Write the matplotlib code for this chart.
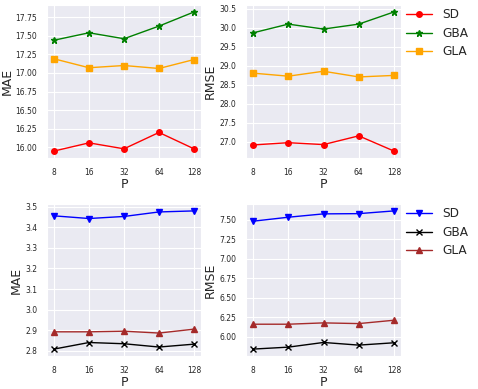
import matplotlib
matplotlib.use("Agg")
import matplotlib.pyplot as plt
import seaborn as sns
import numpy as np

sns.set_style("darkgrid")
plt.rcParams['font.family'] = ['DejaVu Sans']

P_labels = ["8", "16", "32", "64", "128"]

mae1_sd = [15.95, 16.06, 15.98, 16.20, 15.98]
mae1_gba = [17.44, 17.54, 17.46, 17.63, 17.82]
mae1_gla = [17.19, 17.07, 17.10, 17.06, 17.18]

rmse1_sd = [26.92, 26.98, 26.93, 27.16, 26.76]
rmse1_gba = [29.87, 30.10, 29.97, 30.10, 30.42]
rmse1_gla = [28.81, 28.73, 28.86, 28.71, 28.75]

mae2_sd = [3.456, 3.443, 3.453, 3.475, 3.480]
mae2_gba = [2.808, 2.840, 2.834, 2.818, 2.832]
mae2_gla = [2.892, 2.892, 2.895, 2.886, 2.905]

rmse2_sd = [7.483, 7.534, 7.577, 7.580, 7.615]
rmse2_gba = [5.843, 5.868, 5.928, 5.894, 5.924]
rmse2_gla = [6.162, 6.162, 6.179, 6.170, 6.213]

x = np.arange(len(P_labels))

fig = plt.figure(figsize=(4.78, 3.89), dpi=100)
W, H = 478, 389
def ax_at(l, t, r, b):
    return fig.add_axes([l / W, 1 - b / H, (r - l) / W, (b - t) / H])

ax1 = ax_at(47, 5, 201, 158)
ax2 = ax_at(246, 5, 401, 158)
ax3 = ax_at(47, 204, 201, 356)
ax4 = ax_at(246, 204, 401, 356)

top_styles = [("SD", "red", "o", 4), ("GBA", "green", "*", 4.5), ("GLA", "orange", "s", 4)]
bot_styles = [("SD", "blue", "v", 4), ("GBA", "black", "x", 4), ("GLA", "brown", "^", 4)]

for ax, data, styles, ylabel in [
    (ax1, [mae1_sd, mae1_gba, mae1_gla], top_styles, "MAE"),
    (ax2, [rmse1_sd, rmse1_gba, rmse1_gla], top_styles, "RMSE"),
    (ax3, [mae2_sd, mae2_gba, mae2_gla], bot_styles, "MAE"),
    (ax4, [rmse2_sd, rmse2_gba, rmse2_gla], bot_styles, "RMSE"),
]:
    for vals, (lab, c, m, ms) in zip(data, styles):
        ax.plot(x, vals, color=c, marker=m, markersize=ms, linewidth=1.0, label=lab)
    ax.set_xticks(x)
    ax.set_xticklabels(P_labels)
    ax.tick_params(labelsize=5.5)
    ax.set_xlabel("P", fontsize=9, labelpad=1)
    ax.set_ylabel(ylabel, fontsize=9, labelpad=1.5)

ax1.set_yticks([16.00, 16.25, 16.50, 16.75, 17.00, 17.25, 17.50, 17.75])
ax1.set_yticklabels([f"{v:.2f}" for v in ax1.get_yticks()])
ax2.set_yticks([27.0, 27.5, 28.0, 28.5, 29.0, 29.5, 30.0, 30.5])
ax2.set_yticklabels([f"{v:.1f}" for v in ax2.get_yticks()])
ax3.set_yticks([2.8, 2.9, 3.0, 3.1, 3.2, 3.3, 3.4, 3.5])
ax3.set_yticklabels([f"{v:.1f}" for v in ax3.get_yticks()])
ax4.set_yticks([6.00, 6.25, 6.50, 6.75, 7.00, 7.25, 7.50])
ax4.set_yticklabels([f"{v:.2f}" for v in ax4.get_yticks()])

for ax in (ax2, ax4):
    ax.legend(loc="upper left", bbox_to_anchor=(1.0, 1.01), fontsize=8.7, frameon=False,
              handlelength=2.2, borderaxespad=0, labelspacing=0.45)

fig.savefig("out.png", dpi=100)
